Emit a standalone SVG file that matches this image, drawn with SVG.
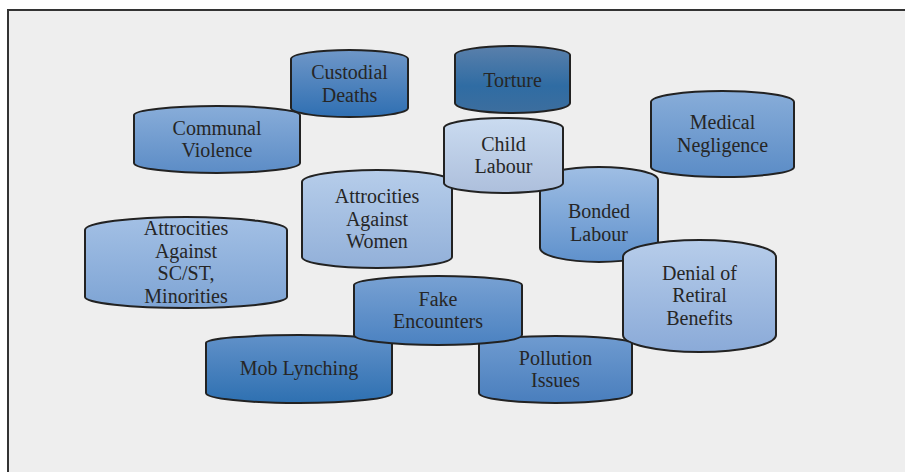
<svg xmlns="http://www.w3.org/2000/svg" width="905" height="472" viewBox="0 0 905 472">
<defs>
<style>
.n{stroke:#222;stroke-width:2}
.t{font-family:"Liberation Serif","Times New Roman",serif;font-size:20px;fill:#262626;text-anchor:middle}
</style>
<linearGradient id="gCust" x1="0" y1="0" x2="0" y2="1"><stop offset="0" stop-color="#6f97c8"/><stop offset="1" stop-color="#2f6fb2"/></linearGradient>
<linearGradient id="gTort" x1="0" y1="0" x2="0" y2="1"><stop offset="0" stop-color="#5a80ab"/><stop offset="0.6" stop-color="#2f6ca3"/><stop offset="1" stop-color="#3d6e9e"/></linearGradient>
<linearGradient id="gComm" x1="0" y1="0" x2="0" y2="1"><stop offset="0" stop-color="#88add9"/><stop offset="1" stop-color="#5c8cc6"/></linearGradient>
<linearGradient id="gChild" x1="0" y1="0" x2="0" y2="1"><stop offset="0" stop-color="#cadbf0"/><stop offset="1" stop-color="#adbfdc"/></linearGradient>
<linearGradient id="gMed" x1="0" y1="0" x2="0" y2="1"><stop offset="0" stop-color="#88add9"/><stop offset="1" stop-color="#5b8cc6"/></linearGradient>
<linearGradient id="gWom" x1="0" y1="0" x2="0" y2="1"><stop offset="0" stop-color="#b6cdea"/><stop offset="1" stop-color="#92b0d9"/></linearGradient>
<linearGradient id="gSC" x1="0" y1="0" x2="0" y2="1"><stop offset="0" stop-color="#a3c0e5"/><stop offset="1" stop-color="#7ea4d4"/></linearGradient>
<linearGradient id="gBond" x1="0" y1="0" x2="0" y2="1"><stop offset="0" stop-color="#9fbee4"/><stop offset="1" stop-color="#5f91cc"/></linearGradient>
<linearGradient id="gDen" x1="0" y1="0" x2="0" y2="1"><stop offset="0" stop-color="#b7cdea"/><stop offset="1" stop-color="#8aaad8"/></linearGradient>
<linearGradient id="gFake" x1="0" y1="0" x2="0" y2="1"><stop offset="0" stop-color="#78a1d3"/><stop offset="1" stop-color="#4b82c1"/></linearGradient>
<linearGradient id="gMob" x1="0" y1="0" x2="0" y2="1"><stop offset="0" stop-color="#6191c9"/><stop offset="1" stop-color="#2e70b1"/></linearGradient>
<linearGradient id="gPoll" x1="0" y1="0" x2="0" y2="1"><stop offset="0" stop-color="#6f9bd0"/><stop offset="1" stop-color="#497ebd"/></linearGradient>
</defs>
<rect x="0" y="0" width="905" height="472" fill="#ffffff"/>
<rect x="8" y="10" width="910" height="480" fill="#eeeeee" stroke="#333" stroke-width="2"/>
<g id="connectors"></g>
<g id="communal-violence">
<path class="n" fill="url(#gComm)" d="M134,115 A83,9 0 0 1 300,115 L300,163 A83,10 0 0 1 134,163 Z"/>
<text class="t" x="217" y="134.75">Communal</text><text class="t" x="217" y="157.25">Violence</text>
</g>
<g id="custodial-deaths">
<path class="n" fill="url(#gCust)" d="M291,59 A58.5,9 0 0 1 408,59 L408,108 A58.5,9 0 0 1 291,108 Z"/>
<text class="t" x="349.5" y="79">Custodial</text><text class="t" x="349.5" y="101.5">Deaths</text>
</g>
<g id="torture">
<path class="n" fill="url(#gTort)" d="M455,55 A57.5,9 0 0 1 570,55 L570,103 A57.5,10 0 0 1 455,103 Z"/>
<text class="t" x="512.5" y="87">Torture</text>
</g>
<g id="medical-negligence">
<path class="n" fill="url(#gMed)" d="M651,102 A71.5,11 0 0 1 794,102 L794,167 A71.5,10 0 0 1 651,167 Z"/>
<text class="t" x="722.5" y="129.25">Medical</text><text class="t" x="722.5" y="151.75">Negligence</text>
</g>
<g id="atrocities-sc-st">
<path class="n" fill="url(#gSC)" d="M85,230 A101,13 0 0 1 287,230 L287,297 A101,11 0 0 1 85,297 Z"/>
<text class="t" x="186" y="235">Attrocities</text><text class="t" x="186" y="257.5">Against</text><text class="t" x="186" y="280">SC/ST,</text><text class="t" x="186" y="302.5">Minorities</text>
</g>
<g id="atrocities-women">
<path class="n" fill="url(#gWom)" d="M302,182 A75,12 0 0 1 452,182 L452,257 A75,11 0 0 1 302,257 Z"/>
<text class="t" x="377" y="203.2">Attrocities</text><text class="t" x="377" y="225.7">Against</text><text class="t" x="377" y="248.2">Women</text>
</g>
<g id="bonded-labour">
<path class="n" fill="url(#gBond)" d="M540,180 A59,13 0 0 1 658,180 L658,248 A59,14 0 0 1 540,248 Z"/>
<text class="t" x="599" y="218">Bonded</text><text class="t" x="599" y="240.5">Labour</text>
</g>
<g id="child-labour">
<path class="n" fill="url(#gChild)" d="M444,128 A59.5,10 0 0 1 563,128 L563,183 A59.5,10 0 0 1 444,183 Z"/>
<text class="t" x="503.5" y="150.5">Child</text><text class="t" x="503.5" y="173">Labour</text>
</g>
<g id="denial-retiral-benefits">
<path class="n" fill="url(#gDen)" d="M623,257 A76.5,17 0 0 1 776,257 L776,335 A76.5,17 0 0 1 623,335 Z"/>
<text class="t" x="699.5" y="279.5">Denial of</text><text class="t" x="699.5" y="302">Retiral</text><text class="t" x="699.5" y="324.5">Benefits</text>
</g>
<g id="mob-lynching">
<path class="n" fill="url(#gMob)" d="M206,343 A93,8 0 0 1 392,343 L392,393 A93,10 0 0 1 206,393 Z"/>
<text class="t" x="299" y="375">Mob Lynching</text>
</g>
<g id="pollution-issues">
<path class="n" fill="url(#gPoll)" d="M479,344 A76.5,8 0 0 1 632,344 L632,393 A76.5,10 0 0 1 479,393 Z"/>
<text class="t" x="555.5" y="364.5">Pollution</text><text class="t" x="555.5" y="387">Issues</text>
</g>
<g id="fake-encounters">
<path class="n" fill="url(#gFake)" d="M354,285 A84,9 0 0 1 522,285 L522,335 A84,10 0 0 1 354,335 Z"/>
<text class="t" x="438" y="305.5">Fake</text><text class="t" x="438" y="328">Encounters</text>
</g>
</svg>
